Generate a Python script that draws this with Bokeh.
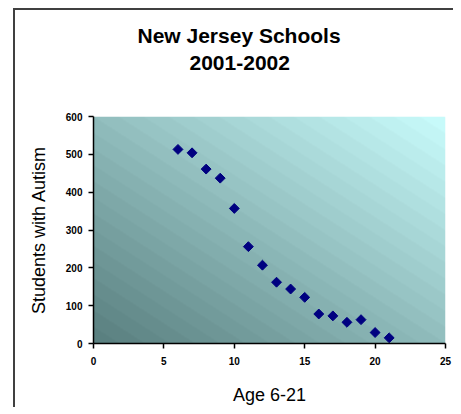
import numpy as np
from bokeh.plotting import figure
from bokeh.models import FixedTicker, Title, Range1d
from bokeh.embed import file_html
from bokeh.resources import INLINE

# ---- data ----
ages = [6, 7, 8, 9, 10, 11, 12, 13, 14, 15, 16, 17, 18, 19, 20, 21]
students = [513, 504, 461, 437, 357, 256, 207, 162, 144, 122, 78, 73, 56, 63, 29, 15]
x_ticks = [0, 5, 10, 15, 20, 25]
y_ticks = [0, 100, 200, 300, 400, 500, 600]
title_lines = ["New Jersey Schools", "2001-2002"]
x_label = "Age 6-21"
y_label = "Students with Autism"

p = figure(
    width=438, height=396,
    frame_width=352, frame_height=227,
    min_border_left=78, min_border_right=8, min_border_top=106, min_border_bottom=63,
    x_range=Range1d(0, 25), y_range=Range1d(0, 600),
    output_backend="svg", toolbar_location=None, title_location=None,
    background_fill_color="white", border_fill_color="white",
)
p.margin = (8, 0, 0, 13)
p.styles = {"border-left": "2px solid #404040", "border-top": "2px solid #404040"}
p.outline_line_color = None
p.xgrid.visible = False
p.ygrid.visible = False

# gradient plot-area background (bottom-left dark teal -> top-right light cyan)
H, W = 227, 352
yy, xx = np.mgrid[0:H, 0:W]
t = (xx / (W - 1) + yy / (H - 1)) / 2.0
t = np.floor(t * 28) / 28
c0 = np.array([0x5a, 0x80, 0x80])
c1 = np.array([0xcc, 0xff, 0xff])
rgb = (c0[None, None, :] + (c1 - c0)[None, None, :] * t[..., None]).astype(np.uint32)
img = np.empty((H, W), dtype=np.uint32)
view = img.view(dtype=np.uint8).reshape((H, W, 4))
view[..., 0] = rgb[..., 0]
view[..., 1] = rgb[..., 1]
view[..., 2] = rgb[..., 2]
view[..., 3] = 255
p.image_rgba(image=[img], x=0, y=0, dw=25, dh=600)

# points
p.scatter(ages, students, marker="square", angle=np.pi / 4, size=7,
          fill_color="#000080", line_color="#000080")

# axes
for ax in (p.xaxis[0], p.yaxis[0]):
    ax.axis_line_color = "black"
    ax.axis_line_width = 1.5
    ax.major_tick_line_color = "black"
    ax.major_tick_line_width = 1.5
    ax.major_tick_out = 5
    ax.major_tick_in = 0
    ax.minor_tick_line_color = None
    ax.major_label_text_font = "Liberation Sans"
    ax.major_label_text_font_style = "bold"
    ax.major_label_text_font_size = "10px"
    ax.major_label_text_color = "black"
    ax.axis_label_text_font = "Liberation Sans"
    ax.axis_label_text_font_style = "normal"
    ax.axis_label_text_font_size = "18px"
    ax.axis_label_text_color = "black"

p.xaxis.ticker = FixedTicker(ticks=x_ticks)
p.yaxis.ticker = FixedTicker(ticks=y_ticks)
p.xaxis.axis_label = x_label
p.yaxis.axis_label = y_label
p.xaxis.major_label_standoff = 8
p.yaxis.major_label_standoff = 6
p.xaxis.axis_label_standoff = 17
p.yaxis.axis_label_standoff = 14

# spacer between plot area and the title block
p.add_layout(Title(text=" ", standoff=34, text_font_size="10px"), "above")
# chart title: two lines, nearest-to-plot line added first
for txt, off, stand in [(title_lines[1], 96, 0), (title_lines[0], 44, 14)]:
    p.add_layout(Title(text=txt, align="left", offset=off, standoff=stand,
                       text_font="Liberation Sans", text_font_style="bold",
                       text_font_size="21px", text_color="black"), "above")

open("out.html", "w").write(file_html(p, INLINE))
